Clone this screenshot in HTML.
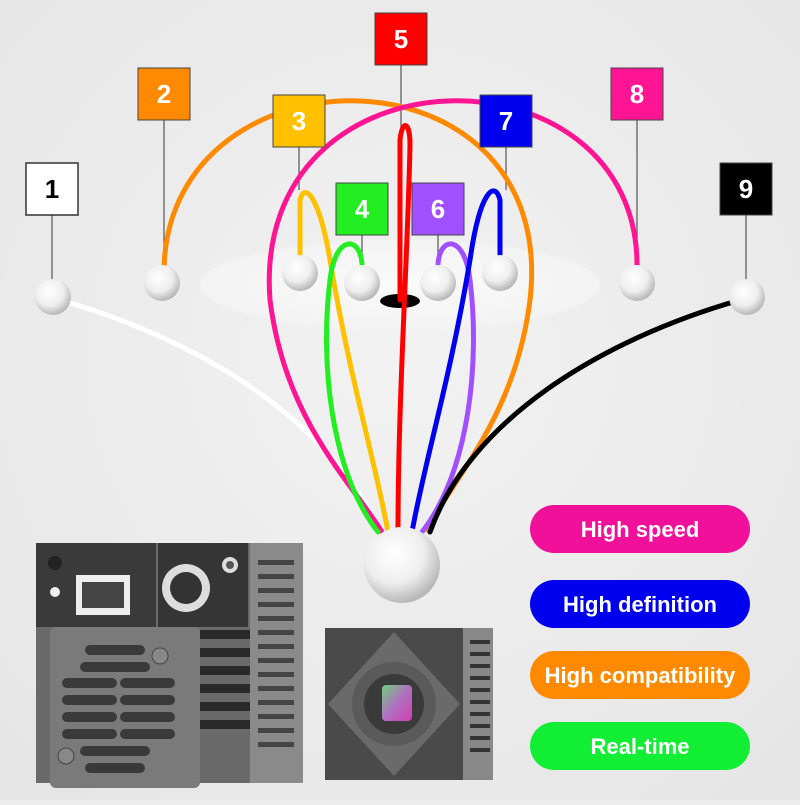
<!DOCTYPE html>
<html><head><meta charset="utf-8"><style>
html,body{margin:0;padding:0;}
body{width:800px;height:800px;overflow:hidden;background:#ececec;font-family:"Liberation Sans",sans-serif;}
</style></head><body>
<svg width="800" height="800" viewBox="0 0 800 800" xmlns="http://www.w3.org/2000/svg">
<defs>
<radialGradient id="bg" cx="50%" cy="45%" r="70%"><stop offset="0" stop-color="#f2f2f2"/><stop offset="1" stop-color="#e6e6e6"/></radialGradient>
<radialGradient id="ball" cx="40%" cy="35%" r="65%"><stop offset="0" stop-color="#ffffff"/><stop offset="0.6" stop-color="#eeeeee"/><stop offset="1" stop-color="#b8b8b8"/></radialGradient>
<radialGradient id="ell" cx="50%" cy="50%" r="50%"><stop offset="0" stop-color="#fafafa"/><stop offset="1" stop-color="#f3f3f3"/></radialGradient>
<linearGradient id="sens" x1="0" y1="0" x2="1" y2="1"><stop offset="0" stop-color="#6fd07a"/><stop offset="0.5" stop-color="#b070c0"/><stop offset="1" stop-color="#d040b0"/></linearGradient>
</defs>
<rect width="800" height="800" fill="url(#bg)"/>
<ellipse cx="400" cy="285" rx="200" ry="45" fill="url(#ell)"/>
<ellipse cx="400" cy="301" rx="20" ry="7" fill="#000"/>

<g stroke="#555" stroke-width="1.2">
<line x1="52" y1="215" x2="52" y2="280"/>
<line x1="164" y1="120" x2="164" y2="266"/>
<line x1="299" y1="147" x2="299" y2="190"/>
<line x1="362" y1="235" x2="362" y2="266"/>
<line x1="401" y1="65" x2="401" y2="128"/>
<line x1="438" y1="235" x2="438" y2="266"/>
<line x1="506" y1="147" x2="506" y2="190"/>
<line x1="637" y1="120" x2="637" y2="266"/>
<line x1="746" y1="215" x2="746" y2="280"/>
</g>

<g fill="none" stroke-width="5" stroke-linecap="round">
<path d="M60,300 C200,340 330,420 380,532" stroke="#ffffff"/>
<path d="M164,268 C170,40 560,40 530,300 C515,420 450,480 428,530" stroke="#ff8a00"/>
<path d="M637,268 C640,40 250,40 270,300 C285,420 350,480 382,532" stroke="#ff1493"/>
<path d="M300,260 L300,200 C305,180 320,200 330,260 C350,380 375,460 388,532" stroke="#ffc000"/>
<path d="M362,264 C360,235 335,235 330,280 C320,360 330,470 378,532" stroke="#22ee22"/>
<path d="M400,300 L400,140 C402,120 410,120 410,145 C408,250 398,400 398,532" stroke="#ff0000"/>
<path d="M438,264 C440,235 465,235 470,280 C480,360 470,470 422,532" stroke="#a050ff"/>
<path d="M500,260 L500,200 C495,180 480,190 470,260 C450,380 425,460 412,532" stroke="#0000ee"/>
<path d="M740,300 C600,340 470,420 430,532" stroke="#000000"/>
</g>

<g fill="url(#ball)">
<circle cx="53" cy="297" r="18"/><circle cx="162" cy="283" r="18"/>
<circle cx="300" cy="273" r="18"/><circle cx="362" cy="283" r="18"/>
<circle cx="438" cy="283" r="18"/><circle cx="500" cy="273" r="18"/>
<circle cx="637" cy="283" r="18"/><circle cx="747" cy="297" r="18"/>
<circle cx="402" cy="565" r="38"/>
</g>

<g font-family="Liberation Sans, sans-serif" font-size="26" font-weight="bold" text-anchor="middle">
<rect x="26" y="163" width="52" height="52" fill="#fff" stroke="#333" stroke-width="1.5"/><text x="52" y="198" fill="#000">1</text>
<rect x="138" y="68" width="52" height="52" fill="#ff8a00" stroke="#444"/><text x="164" y="103" fill="#fff">2</text>
<rect x="273" y="95" width="52" height="52" fill="#ffc000" stroke="#444"/><text x="299" y="130" fill="#fff">3</text>
<rect x="336" y="183" width="52" height="52" fill="#22ee22" stroke="#444"/><text x="362" y="218" fill="#fff">4</text>
<rect x="375" y="13" width="52" height="52" fill="#ff0000" stroke="#444"/><text x="401" y="48" fill="#fff">5</text>
<rect x="412" y="183" width="52" height="52" fill="#a050ff" stroke="#444"/><text x="438" y="218" fill="#fff">6</text>
<rect x="480" y="95" width="52" height="52" fill="#0000ee" stroke="#444"/><text x="506" y="130" fill="#fff">7</text>
<rect x="611" y="68" width="52" height="52" fill="#ff1493" stroke="#444"/><text x="637" y="103" fill="#fff">8</text>
<rect x="720" y="163" width="52" height="52" fill="#000" stroke="#444"/><text x="746" y="198" fill="#fff">9</text>
</g>

<g font-family="Liberation Sans, sans-serif" font-size="22" font-weight="bold" text-anchor="middle" fill="#fff">
<rect x="530" y="505" width="220" height="48" rx="24" fill="#f0109a"/><text x="640" y="537">High speed</text>
<rect x="530" y="580" width="220" height="48" rx="24" fill="#0000ee"/><text x="640" y="612">High definition</text>
<rect x="530" y="651" width="220" height="48" rx="24" fill="#ff8a00"/><text x="640" y="683">High compatibility</text>
<rect x="530" y="722" width="220" height="48" rx="24" fill="#11ee33"/><text x="640" y="754">Real-time</text>
</g>

<g>
<rect x="36" y="543" width="267" height="240" fill="#6a6a6a"/>
<rect x="250" y="543" width="53" height="240" fill="#8a8a8a"/>
<g fill="#2a2a2a">
<rect x="200" y="630" width="50" height="9"/><rect x="200" y="648" width="50" height="9"/><rect x="200" y="666" width="50" height="9"/>
<rect x="200" y="684" width="50" height="9"/><rect x="200" y="702" width="50" height="9"/><rect x="200" y="720" width="50" height="9"/>
</g>
<g fill="#444">
<rect x="258" y="560" width="36" height="5"/><rect x="258" y="574" width="36" height="5"/><rect x="258" y="588" width="36" height="5"/><rect x="258" y="602" width="36" height="5"/><rect x="258" y="616" width="36" height="5"/><rect x="258" y="630" width="36" height="5"/><rect x="258" y="644" width="36" height="5"/><rect x="258" y="658" width="36" height="5"/><rect x="258" y="672" width="36" height="5"/><rect x="258" y="686" width="36" height="5"/><rect x="258" y="700" width="36" height="5"/><rect x="258" y="714" width="36" height="5"/><rect x="258" y="728" width="36" height="5"/><rect x="258" y="742" width="36" height="5"/>
</g>
<rect x="36" y="543" width="120" height="84" fill="#3a3a3a"/>
<rect x="158" y="543" width="90" height="84" fill="#353535"/>
<rect x="76" y="575" width="54" height="40" fill="#eee"/><rect x="82" y="582" width="42" height="26" fill="#444"/>
<circle cx="186" cy="588" r="24" fill="#ddd"/><circle cx="186" cy="588" r="16" fill="#333"/>
<circle cx="230" cy="565" r="8" fill="#ddd"/><circle cx="230" cy="565" r="4" fill="#555"/>
<circle cx="55" cy="563" r="7" fill="#222"/><circle cx="55" cy="592" r="5" fill="#eee"/>
<rect x="50" y="627" width="150" height="161" rx="6" fill="#7a7a7a"/>
<g fill="#3a3a3a">
<rect x="85" y="645" width="60" height="10" rx="5"/><rect x="80" y="662" width="70" height="10" rx="5"/>
<rect x="62" y="678" width="55" height="10" rx="5"/><rect x="120" y="678" width="55" height="10" rx="5"/>
<rect x="62" y="695" width="55" height="10" rx="5"/><rect x="120" y="695" width="55" height="10" rx="5"/>
<rect x="62" y="712" width="55" height="10" rx="5"/><rect x="120" y="712" width="55" height="10" rx="5"/>
<rect x="62" y="729" width="55" height="10" rx="5"/><rect x="120" y="729" width="55" height="10" rx="5"/>
<rect x="80" y="746" width="70" height="10" rx="5"/><rect x="85" y="763" width="60" height="10" rx="5"/>
</g>
<circle cx="160" cy="656" r="8" fill="#888" stroke="#444"/><circle cx="66" cy="756" r="8" fill="#888" stroke="#444"/>
</g>

<g>
<rect x="325" y="628" width="168" height="152" fill="#4a4a4a"/>
<rect x="463" y="628" width="30" height="152" fill="#888"/>
<g fill="#333"><rect x="470" y="640" width="20" height="4"/><rect x="470" y="652" width="20" height="4"/><rect x="470" y="664" width="20" height="4"/><rect x="470" y="676" width="20" height="4"/><rect x="470" y="688" width="20" height="4"/><rect x="470" y="700" width="20" height="4"/><rect x="470" y="712" width="20" height="4"/><rect x="470" y="724" width="20" height="4"/><rect x="470" y="736" width="20" height="4"/><rect x="470" y="748" width="20" height="4"/></g>
<polygon points="394,632 460,704 394,776 328,704" fill="#6a6a6a"/>
<circle cx="394" cy="704" r="42" fill="#5a5a5a"/>
<circle cx="394" cy="704" r="30" fill="#3a3a3a"/>
<rect x="382" y="685" width="30" height="36" rx="4" fill="url(#sens)"/>
</g>
</svg>
</body></html>
